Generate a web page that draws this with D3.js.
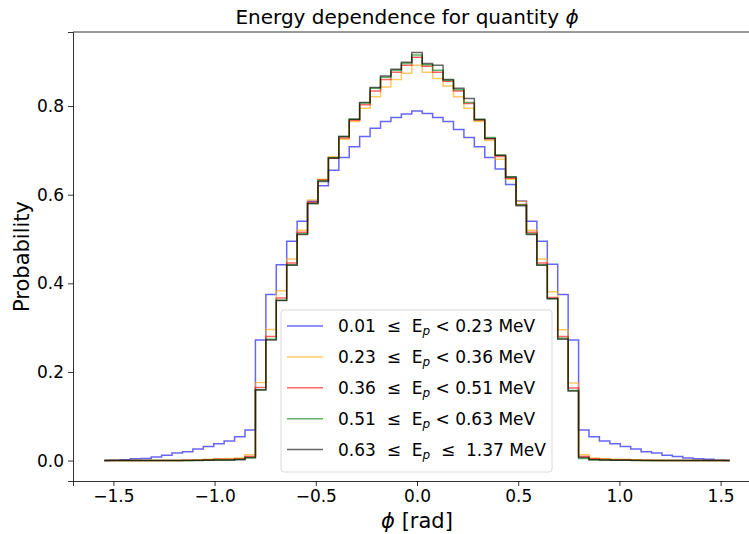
<!DOCTYPE html>
<html lang="en">
<head>
  <meta charset="UTF-8">
  <title>Energy dependence for quantity phi</title>
  <script src="https://cdn.jsdelivr.net/npm/d3@7"></script>
  <style>
  body{
    margin: 0;
    background: #fff;
  }
  text{
    font-family: 'DejaVu Sans', sans-serif;
    fill: #000;
  }
  .axis path, .axis line{
    stroke: #000;
    stroke-width: 0.8;
  }
  .axis text{
    font-size: 17px;
  }
  .titulo{
    font-size: 20px;
  }
  .etiqueta{
    font-size: 21px;
  }
  .leyenda{
    font-size: 17px;
    white-space: pre;
  }
  </style>
</head>
<body>
  <div id="grafico"></div>

  <script>
    // 61 bins over [-pi/2, pi/2], drawn from bin centres as a mid step
    var nBins = 61;
    var anchoBin = Math.PI / nBins;
    var centros = d3.range(nBins).map(function(i){ return -Math.PI / 2 + (i + 0.5) * anchoBin; });

    var serieAzul = [
      0.000, 0.001, 0.002, 0.004, 0.005, 0.008, 0.012, 0.017, 0.020, 0.026, 0.032, 0.038, 0.044, 0.054, 0.069,
      0.272, 0.375, 0.442, 0.495, 0.540, 0.585, 0.620, 0.655, 0.684, 0.708, 0.731, 0.750, 0.765, 0.774, 0.782,
      0.789,
      0.783, 0.774, 0.765, 0.747, 0.729, 0.708, 0.684, 0.658, 0.623, 0.586, 0.540, 0.495, 0.443, 0.375, 0.272,
      0.069, 0.054, 0.044, 0.038, 0.032, 0.026, 0.020, 0.017, 0.012, 0.009, 0.006, 0.004, 0.003, 0.001, 0.000
    ];
    var serieNaranja = [
      0.000, 0.000, 0.000, 0.000, 0.000, 0.000, 0.000, 0.000, 0.001, 0.002, 0.003, 0.004, 0.004, 0.006, 0.013,
      0.176, 0.296, 0.383, 0.455, 0.520, 0.588, 0.635, 0.685, 0.725, 0.765, 0.795, 0.821, 0.843, 0.860, 0.874,
      0.892,
      0.876, 0.862, 0.845, 0.821, 0.795, 0.765, 0.722, 0.680, 0.635, 0.585, 0.520, 0.455, 0.381, 0.295, 0.175,
      0.013, 0.006, 0.004, 0.003, 0.003, 0.002, 0.001, 0.001, 0.000, 0.000, 0.000, 0.000, 0.000, 0.000, 0.000
    ];
    var serieRoja = [
      0.000, 0.000, 0.000, 0.000, 0.000, 0.000, 0.000, 0.000, 0.001, 0.001, 0.002, 0.003, 0.003, 0.004, 0.009,
      0.165, 0.280, 0.367, 0.446, 0.515, 0.583, 0.633, 0.683, 0.728, 0.768, 0.803, 0.834, 0.860, 0.876, 0.892,
      0.910,
      0.890, 0.876, 0.856, 0.834, 0.806, 0.768, 0.726, 0.686, 0.637, 0.578, 0.515, 0.446, 0.368, 0.280, 0.164,
      0.009, 0.004, 0.003, 0.002, 0.002, 0.001, 0.001, 0.000, 0.000, 0.000, 0.000, 0.000, 0.000, 0.000, 0.000
    ];
    var serieVerde = [
      0.000, 0.000, 0.000, 0.000, 0.000, 0.000, 0.000, 0.000, 0.000, 0.001, 0.001, 0.002, 0.002, 0.003, 0.006,
      0.160, 0.274, 0.362, 0.442, 0.512, 0.580, 0.632, 0.684, 0.731, 0.770, 0.807, 0.840, 0.865, 0.881, 0.896,
      0.915,
      0.893, 0.881, 0.858, 0.837, 0.808, 0.769, 0.729, 0.689, 0.640, 0.577, 0.512, 0.442, 0.366, 0.276, 0.158,
      0.005, 0.002, 0.002, 0.001, 0.001, 0.001, 0.000, 0.000, 0.000, 0.000, 0.000, 0.000, 0.000, 0.000, 0.000
    ];
    var serieNegra = [
      0.000, 0.000, 0.000, 0.000, 0.000, 0.000, 0.000, 0.000, 0.000, 0.000, 0.001, 0.001, 0.001, 0.002, 0.007,
      0.159, 0.272, 0.361, 0.441, 0.510, 0.580, 0.630, 0.682, 0.731, 0.770, 0.808, 0.842, 0.868, 0.883, 0.899,
      0.921,
      0.896, 0.892, 0.860, 0.840, 0.817, 0.770, 0.727, 0.689, 0.640, 0.575, 0.510, 0.441, 0.365, 0.274, 0.157,
      0.007, 0.002, 0.001, 0.001, 0.001, 0.000, 0.000, 0.000, 0.000, 0.000, 0.000, 0.000, 0.000, 0.000, 0.000
    ];

    var limitesInf = ['0.01', '0.23', '0.36', '0.51', '0.63'];
    var limitesSup = ['0.23', '0.36', '0.51', '0.63', '1.37'];
    var ticksX = [-1.5, -1.0, -0.5, 0.0, 0.5, 1.0, 1.5];
    var ticksY = [0.0, 0.2, 0.4, 0.6, 0.8];

    var series = [serieAzul, serieNaranja, serieRoja, serieVerde, serieNegra];
    var colores = ['#0000ff', '#ffa500', '#ff0000', '#008000', '#000000'];

    var w = 749;
    var h = 534;
    var margen = {top: 32, right: -12, bottom: 53, left: 73};

    var svg = d3.select("#grafico")
      .append("svg")
      .attr("width", w)
      .attr("height", h);

    // escalas con el 5% de margen de matplotlib
    var xMin = d3.min(centros), xMax = d3.max(centros);
    var padX = (xMax - xMin) * 0.05;
    var yMax = d3.max(series, function(s){ return d3.max(s); });
    var padY = yMax * 0.05;

    var xScale = d3.scaleLinear()
      .domain([xMin - padX, xMax + padX])
      .range([margen.left, w - margen.right]);

    var yScale = d3.scaleLinear()
      .domain([-padY, yMax + padY])
      .range([h - margen.bottom, margen.top]);

    var linea = d3.line()
      .x(function(d){ return xScale(d[0]); })
      .y(function(d){ return yScale(d[1]); })
      .curve(d3.curveStep);

    //Pinta las lineas escalonadas
    svg.selectAll(".serie")
      .data(series)
      .enter()
      .append("path")
      .attr("class", "serie")
      .attr("fill", "none")
      .attr("stroke", function(d, i){ return colores[i]; })
      .attr("stroke-opacity", 0.6)
      .attr("stroke-width", 1.5)
      .attr("d", function(s){
        return linea(s.map(function(v, i){ return [centros[i], v]; }));
      });

    //Ejes
    svg.append("g")
      .attr("class", "axis")
      .attr("transform", "translate(0," + (h - margen.bottom) + ")")
      .call(d3.axisBottom(xScale).tickValues(ticksX).tickFormat(d3.format(".1f")).tickSizeOuter(0).tickSize(5).tickPadding(4));

    svg.append("g")
      .attr("class", "axis")
      .attr("transform", "translate(" + margen.left + ",0)")
      .call(d3.axisLeft(yScale).tickValues(ticksY).tickFormat(d3.format(".1f")).tickSizeOuter(0).tickSize(5).tickPadding(4));

    // marco superior
    svg.append("line")
      .attr("x1", margen.left).attr("x2", w)
      .attr("y1", margen.top).attr("y2", margen.top)
      .attr("stroke", "#000").attr("stroke-width", 0.8);

    //Titulo y etiquetas
    var titulo = svg.append("text")
      .attr("class", "titulo")
      .attr("x", 407)
      .attr("y", 24)
      .attr("text-anchor", "middle")
      .text("Energy dependence for quantity ");
    titulo.append("tspan").attr("font-style", "italic").text("ϕ");

    var etiquetaX = svg.append("text")
      .attr("class", "etiqueta")
      .attr("x", (xScale.range()[0] + xScale.range()[1]) / 2)
      .attr("y", 528)
      .attr("text-anchor", "middle");
    etiquetaX.append("tspan").attr("font-style", "italic").text("ϕ");
    etiquetaX.append("tspan").text(" [rad]");

    svg.append("text")
      .attr("class", "etiqueta")
      .attr("transform", "translate(29," + ((margen.top + h - margen.bottom) / 2) + ") rotate(-90)")
      .attr("text-anchor", "middle")
      .text("Probability");

    //Leyenda
    var leyenda = svg.append("g");
    leyenda.append("rect")
      .attr("x", 281).attr("y", 310)
      .attr("width", 271).attr("height", 162)
      .attr("rx", 3)
      .attr("fill", "#fff").attr("fill-opacity", 0.8)
      .attr("stroke", "#d9d9d9");

    var filas = leyenda.selectAll(".fila")
      .data(limitesInf)
      .enter()
      .append("g")
      .attr("class", "fila")
      .attr("transform", function(d, i){ return "translate(287," + (326 + i * 30.9) + ")"; });

    filas.append("line")
      .attr("x1", 0).attr("x2", 36)
      .attr("stroke", function(d, i){ return colores[i]; })
      .attr("stroke-opacity", 0.6)
      .attr("stroke-width", 1.5);

    var textos = filas.append("text")
      .attr("class", "leyenda")
      .attr("x", 51)
      .attr("y", 6);
    textos.append("tspan").text(function(d){ return d + "  ≤  E"; });
    textos.append("tspan").attr("font-style", "italic").attr("font-size", "12px").attr("dy", 3).text("p");
    textos.append("tspan").attr("dy", -3).text(function(d, i){
      return (i == 4 ? "  ≤  " : " < ") + limitesSup[i] + " MeV";
    });
  </script>
</body>
</html>
